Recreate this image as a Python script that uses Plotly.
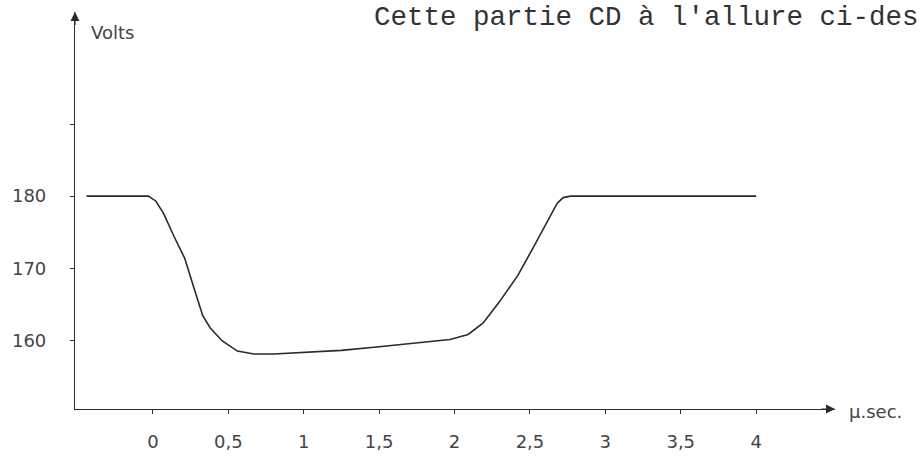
import plotly.graph_objects as go

# Curve (time in µs, voltage in V)
t_us = [-0.44, -0.03, 0.02, 0.07, 0.14, 0.21, 0.27, 0.33, 0.38, 0.46, 0.56, 0.67, 0.80,
        1.00, 1.25, 1.50, 1.75, 1.97, 2.09, 2.19, 2.30, 2.42, 2.52, 2.62, 2.68, 2.72, 2.77, 4.00]
volts = [180.0, 180.0, 179.3, 177.6, 174.4, 171.4, 167.4, 163.4, 161.7, 159.9, 158.5, 158.1, 158.1,
         158.3, 158.6, 159.1, 159.6, 160.1, 160.8, 162.4, 165.4, 169.0, 172.8, 176.6, 179.0, 179.8, 180.0, 180.0]

x_tickvals = [0, 0.5, 1, 1.5, 2, 2.5, 3, 3.5, 4]
x_ticktext = ["0", "0,5", "1", "1,5", "2", "2,5", "3", "3,5", "4"]
y_tickvals = [160, 170, 180, 190]
y_ticktext = ["160", "170", "180", ""]

title_text = "Cette partie CD à l'allure ci-des"
y_label = "Volts"
x_label = "μ.sec."

X_RANGE = [-0.517, 4.523]
Y_RANGE = [150.46, 205.56]

ink = "#2a2a2a"
hand = dict(family="DejaVu Sans", size=18, color="#444444")

fig = go.Figure()
fig.add_trace(go.Scatter(
    x=t_us, y=volts, mode="lines",
    line=dict(color=ink, width=1.6, shape="linear"),
    hoverinfo="skip", showlegend=False,
))

fig.update_layout(
    width=923, height=464,
    margin=dict(l=74, r=88, t=12, b=36),
    paper_bgcolor="white", plot_bgcolor="white",
    showlegend=False,
    xaxis=dict(range=X_RANGE, showgrid=False, zeroline=False,
               showline=True, linecolor=ink, linewidth=1.2,
               ticks="outside", ticklen=4, tickcolor=ink, tickwidth=1,
               tickvals=x_tickvals, ticktext=x_ticktext,
               tickfont=hand, ticklabelstandoff=12),
    yaxis=dict(range=Y_RANGE, showgrid=False, zeroline=False,
               showline=True, linecolor=ink, linewidth=1.2,
               ticks="outside", ticklen=4, tickcolor=ink, tickwidth=1,
               tickvals=y_tickvals, ticktext=y_ticktext,
               tickfont=hand, ticklabelstandoff=20),
)

# axis arrowheads
fig.add_annotation(x=X_RANGE[1], y=Y_RANGE[0], ax=X_RANGE[1] - 0.1, ay=Y_RANGE[0],
                   xref="x", yref="y", axref="x", ayref="y", text="",
                   showarrow=True, arrowhead=2, arrowsize=1.5, arrowwidth=1.2, arrowcolor=ink)
fig.add_annotation(x=X_RANGE[0], y=Y_RANGE[1], ax=X_RANGE[0], ay=Y_RANGE[1] - 2,
                   xref="x", yref="y", axref="x", ayref="y", text="",
                   showarrow=True, arrowhead=2, arrowsize=1.5, arrowwidth=1.2, arrowcolor=ink)

# axis labels
fig.add_annotation(x=(112 - 74) / 761, y=(428 - 34) / 416, xref="paper", yref="paper",
                   text=y_label, showarrow=False, font=hand, xanchor="center", yanchor="middle")
fig.add_annotation(x=(847 - 74) / 761, y=(428 - 431) / 416, xref="paper", yref="paper",
                   text=x_label, showarrow=False, font=hand, xanchor="left", yanchor="middle")

# typewritten text at the top
fig.add_annotation(x=(372 - 74) / 761, y=(428 - 0) / 416, xref="paper", yref="paper",
                   text=title_text, showarrow=False, borderpad=0,
                   font=dict(family="Liberation Mono", size=27.5, color="#333333"),
                   xanchor="left", yanchor="top")

fig.write_html("out.html")
